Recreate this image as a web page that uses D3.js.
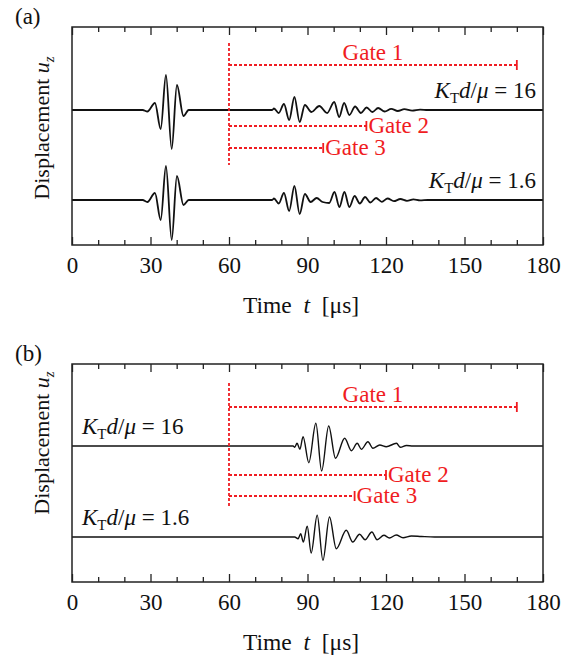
<!DOCTYPE html>
<html>
<head>
<meta charset="utf-8">
<script src="https://cdn.jsdelivr.net/npm/d3@7"></script>
<style>
  body { margin: 0; background: #fff; }
  svg, svg text { font-family: "Liberation Serif", "Times New Roman", Times, serif; }
</style>
</head>
<body>
<script>
"use strict";

// ---- data ----
const majorTicks = [0, 30, 60, 90, 120, 150, 180];
const minorTicks = [10, 20, 40, 50, 70, 80, 100, 110, 130, 140, 160, 170];
const kValues = ["16", "1.6"];
const gateNames = ["Gate 1", "Gate 2", "Gate 3"];
const gateStart = 60;
const gateEndsA = [170, 112.5, 96];
const gateEndsB = [170, 120, 108];
const gateLabelT = 115;

// waveforms: [time in us, displacement in arb. units]
const waveA16 = [[0,0],[27,0],[28.8,-1.5],[31.7,7],[33.9,-19],[35.9,35],[38.1,-39],[40.1,25],[42.6,-6],[44.6,0],
  [76.5,0],[77.2,1.5],[79,-3],[81,6],[83,-10],[85,13],[87,-12],[89,5],[91.5,-2],[94.5,4],[97.5,-3],
  [100.2,8],[102.1,-7],[104,7],[106,-5],[108.2,3.5],[110.4,-3],[112.6,2.5],[114.8,-2],[117,2],[119.5,-1.5],
  [122,1.2],[124.5,-1],[127,0.8],[130,-0.6],[133,0.4],[136,0],[180,0]];
const waveA1p6 = [[0,0],[27,0],[28.8,-2],[31.7,7],[33.9,-20],[35.9,34],[38.1,-40],[40.1,24],[42.6,-5],[44.6,0],
  [76.5,0],[77.2,1.5],[79,-3.5],[81,7],[83,-11],[85,14],[87,-14],[89,6],[91.2,-2],[93.5,2],[95.8,-2],
  [98.3,-3],[100.3,8],[102.2,-7],[104.1,8],[106,-7],[108,4],[110,-3.5],[112,3],[114,-2.5],[116.2,2],
  [118.4,-1.8],[120.6,1.5],[123,-1.2],[125.5,1],[128,-0.8],[130.5,0.6],[133,-0.4],[136,0],[180,0]];
const waveB16 = [[0,0],[84.5,0],[85.1,-1.3],[86,2.7],[87.1,-3.3],[88.3,9.3],[90.5,-16.7],[93.2,22.7],[95.4,-25],
  [98.1,20],[100.7,-12.3],[104.2,7.7],[106.8,-4.7],[109,2.7],[110.6,-3.3],[113.1,4.3],[115,-2.3],[117.6,1],
  [120.1,-0.7],[124,2.7],[125.5,-1.3],[127.8,0.5],[130.3,0],[180,0]];
const waveB1p6 = [[0,0],[85.1,0],[86.4,-1.7],[87.4,3.3],[88.4,-5],[89.9,10.7],[91.4,-16],[93.7,21.7],[95.9,-23.3],
  [98.4,20],[101,-11.7],[104.8,6.7],[107.3,-5],[109.9,2.7],[112,-2.7],[114.6,5],[116.6,-2.7],[119.2,1.7],
  [121.3,-1],[123.9,2],[126.5,-0.7],[129.7,1],[133.5,0.5],[138.6,0],[180,0]];

// ---- layout ----
const W = 572, H = 657;
const serif = "'Liberation Serif', 'Times New Roman', Times, serif";
const svg = d3.select("body").append("svg").attr("width", W).attr("height", H)
  .attr("font-family", serif);
const x = d3.scaleLinear().domain([0, 180]).range([72, 543]);
const red = "#f01c22";
const ink = "#111";
const plotH = 218;

let panels = [
  { tag: "(a)", top: 27, bases: [83, 173], waves: [waveA16, waveA1p6], lw: 1.8,
    gateY: [38, 99, 121], vLine: [16, 138], gateEnds: gateEndsA, kAnchor: "end", kX: 536, ylabelY: 101 },
  { tag: "(b)", top: 364, bases: [82, 173], waves: [waveB16, waveB1p6], lw: 1.4,
    gateY: [43, 111, 132], vLine: [19, 143], gateEnds: gateEndsB, kAnchor: "start", kX: 82, ylabelY: 79 }
];

let addText = (sel) => sel.append("text").style("font-family", serif).attr("fill", ink);

let drawPanel = (p) => {
  let g = svg.append("g").attr("transform", `translate(0,${p.top})`);

  // waveforms
  p.waves.forEach((w, i) => {
    let y = d3.scaleLinear().domain([-50, 50]).range([p.bases[i] + 50, p.bases[i] - 50]);
    let line = d3.line().x(d => x(d[0])).y(d => y(d[1])).curve(d3.curveMonotoneX);
    g.append("path").attr("d", line(w))
      .attr("fill", "none").attr("stroke", ink)
      .attr("stroke-width", p.lw).attr("stroke-linejoin", "round");
  });

  // gates
  g.append("line")
    .attr("x1", x(gateStart)).attr("x2", x(gateStart))
    .attr("y1", p.vLine[0]).attr("y2", p.vLine[1])
    .attr("stroke", red).attr("stroke-width", 1.8).attr("stroke-dasharray", "3,2");
  p.gateEnds.forEach((e, i) => {
    let gy = p.gateY[i];
    g.append("line")
      .attr("x1", x(gateStart)).attr("x2", x(e))
      .attr("y1", gy).attr("y2", gy)
      .attr("stroke", red).attr("stroke-width", 1.8).attr("stroke-dasharray", "3,2");
    g.append("line")
      .attr("x1", x(e)).attr("x2", x(e))
      .attr("y1", gy - 5).attr("y2", gy + 5)
      .attr("stroke", red).attr("stroke-width", 1.8);
    let t = addText(g).attr("fill", red).style("font-size", "23px").text(gateNames[i]);
    if (i === 0) {
      t.attr("x", x(gateLabelT)).attr("y", gy - 5).attr("text-anchor", "middle");
    } else {
      t.attr("x", x(e) + 2).attr("y", gy + 7);
    }
  });

  // K_T d / mu labels
  kValues.forEach((k, i) => {
    let t = addText(g).attr("x", p.kX).attr("y", p.bases[i] - 12)
      .attr("text-anchor", p.kAnchor).style("font-size", "23px");
    t.append("tspan").style("font-style", "italic").text("K");
    t.append("tspan").style("font-size", "15px").attr("dy", 5).text("T");
    t.append("tspan").style("font-style", "italic").attr("dy", -5).text("d");
    t.append("tspan").text("/");
    t.append("tspan").style("font-style", "italic").text("μ");
    t.append("tspan").text(" = " + k);
  });

  // frame
  g.append("rect").attr("x", x(0)).attr("y", 0)
    .attr("width", x(180) - x(0)).attr("height", plotH)
    .attr("fill", "none").attr("stroke", "#222").attr("stroke-width", 1.5);

  // ticks (inward, top and bottom)
  let bottom = g.append("g").attr("transform", `translate(0,${plotH})`)
    .call(d3.axisBottom(x).tickValues(majorTicks).tickSize(-8).tickFormat(d3.format("d")));
  g.append("g").attr("transform", `translate(0,${plotH})`)
    .call(d3.axisBottom(x).tickValues(minorTicks).tickSize(-5).tickFormat(""));
  g.append("g").call(d3.axisTop(x).tickValues(majorTicks).tickSize(-8).tickFormat(""));
  g.append("g").call(d3.axisTop(x).tickValues(minorTicks).tickSize(-5).tickFormat(""));
  g.selectAll(".domain").remove();
  g.selectAll(".tick line").attr("stroke", "#222").attr("stroke-width", 1.3);
  bottom.attr("font-family", serif);
  bottom.selectAll("text").attr("y", 28).attr("dy", null)
    .style("font-size", "23px").attr("fill", ink).style("font-family", serif);

  // axis titles
  let xt = addText(g).attr("x", 301).attr("y", plotH + 68)
    .attr("text-anchor", "middle").style("font-size", "23.5px");
  xt.append("tspan").text("Time\u2002");
  xt.append("tspan").style("font-style", "italic").text("t");
  xt.append("tspan").text("\u2002[μs]");

  let yt = addText(g).attr("transform", `translate(49,${p.ylabelY}) rotate(-90)`)
    .attr("text-anchor", "middle").style("font-size", "22px");
  yt.append("tspan").text("Displacement ");
  yt.append("tspan").style("font-style", "italic").text("u");
  yt.append("tspan").style("font-style", "italic").style("font-size", "15px").attr("dy", 5).text("z");

  // panel tag
  addText(svg).attr("x", 15).attr("y", p.top - 3)
    .style("font-size", "23px").text(p.tag);
};

panels.forEach(drawPanel);
</script>
</body>
</html>
